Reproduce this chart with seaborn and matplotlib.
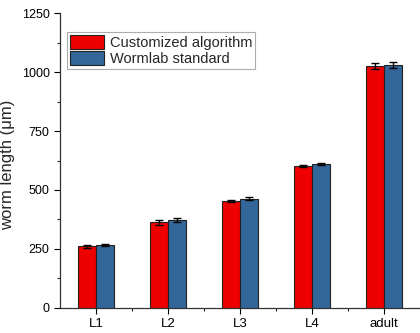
import pandas as pd
import numpy as np
import matplotlib
matplotlib.use("Agg")
import matplotlib.pyplot as plt
import seaborn as sns
from matplotlib.ticker import MultipleLocator, FixedLocator

stages = ["L1", "L2", "L3", "L4", "adult"]
methods = ["Customized algorithm", "Wormlab standard"]
custom_mean = [261, 362, 452, 601, 1027]
custom_err = [7, 12, 5, 4, 12]
wormlab_mean = [265, 372, 463, 609, 1029]
wormlab_err = [4, 10, 6, 4, 13]

sns.set_style("ticks")
plt.rcParams["font.family"] = ["Liberation Sans", "DejaVu Sans"]

df = pd.DataFrame({
    "stage": stages * 2,
    "method": [methods[0]] * 5 + [methods[1]] * 5,
    "length": custom_mean + wormlab_mean,
    "err": custom_err + wormlab_err,
})

colors = ["#EE0000", "#336699"]

fig = plt.figure(figsize=(4.2, 3.33), dpi=100)
ax = fig.add_axes([0.143, 0.076, 0.857, 0.884])

sns.barplot(data=df, x="stage", y="length", hue="method", order=stages,
            hue_order=methods, palette=colors, width=0.5, gap=0,
            errorbar=None, edgecolor="#222222", linewidth=0.8,
            saturation=1, ax=ax)

# error bars at bar centres
for cont, m in zip(ax.containers, methods):
    sub = df[df.method == m].set_index("stage").loc[stages]
    xs = [p.get_x() + p.get_width() / 2 for p in cont.patches]
    ax.errorbar(xs, sub["length"], yerr=sub["err"], fmt="none",
                ecolor="black", elinewidth=1, capsize=3, capthick=1, zorder=5)

ax.set_xlim(-0.5, 4.5)
ax.set_ylim(0, 1250)
ax.yaxis.set_major_locator(MultipleLocator(250))
ax.yaxis.set_minor_locator(MultipleLocator(125))
ax.xaxis.set_minor_locator(FixedLocator([0.5, 1.5, 2.5, 3.5]))
ax.tick_params(axis="y", which="major", direction="out", length=4,
               width=0.8, labelsize=9, colors="black")
ax.tick_params(axis="x", which="major", direction="out", length=4,
               width=0.8, labelsize=9.5, colors="black")
ax.tick_params(axis="both", which="minor", direction="out", length=2.5,
               width=0.8)
ax.set_xlabel("")
ax.set_ylabel("worm length (\u03bcm)", fontsize=12)
ax.yaxis.set_label_coords(-0.125, 0.485)
sns.despine(ax=ax)
for s in ["left", "bottom"]:
    ax.spines[s].set_color("#333333")
    ax.spines[s].set_linewidth(0.9)

leg = ax.legend(loc="upper left", bbox_to_anchor=(0.02, 0.935),
                borderaxespad=0, fontsize=10.5, frameon=True, fancybox=False,
                edgecolor="#999999", handlelength=2.3, handleheight=1.1,
                labelspacing=0.05, handletextpad=0.4, borderpad=0.2)
leg.get_frame().set_linewidth(0.8)

fig.savefig("out.png", dpi=100)
